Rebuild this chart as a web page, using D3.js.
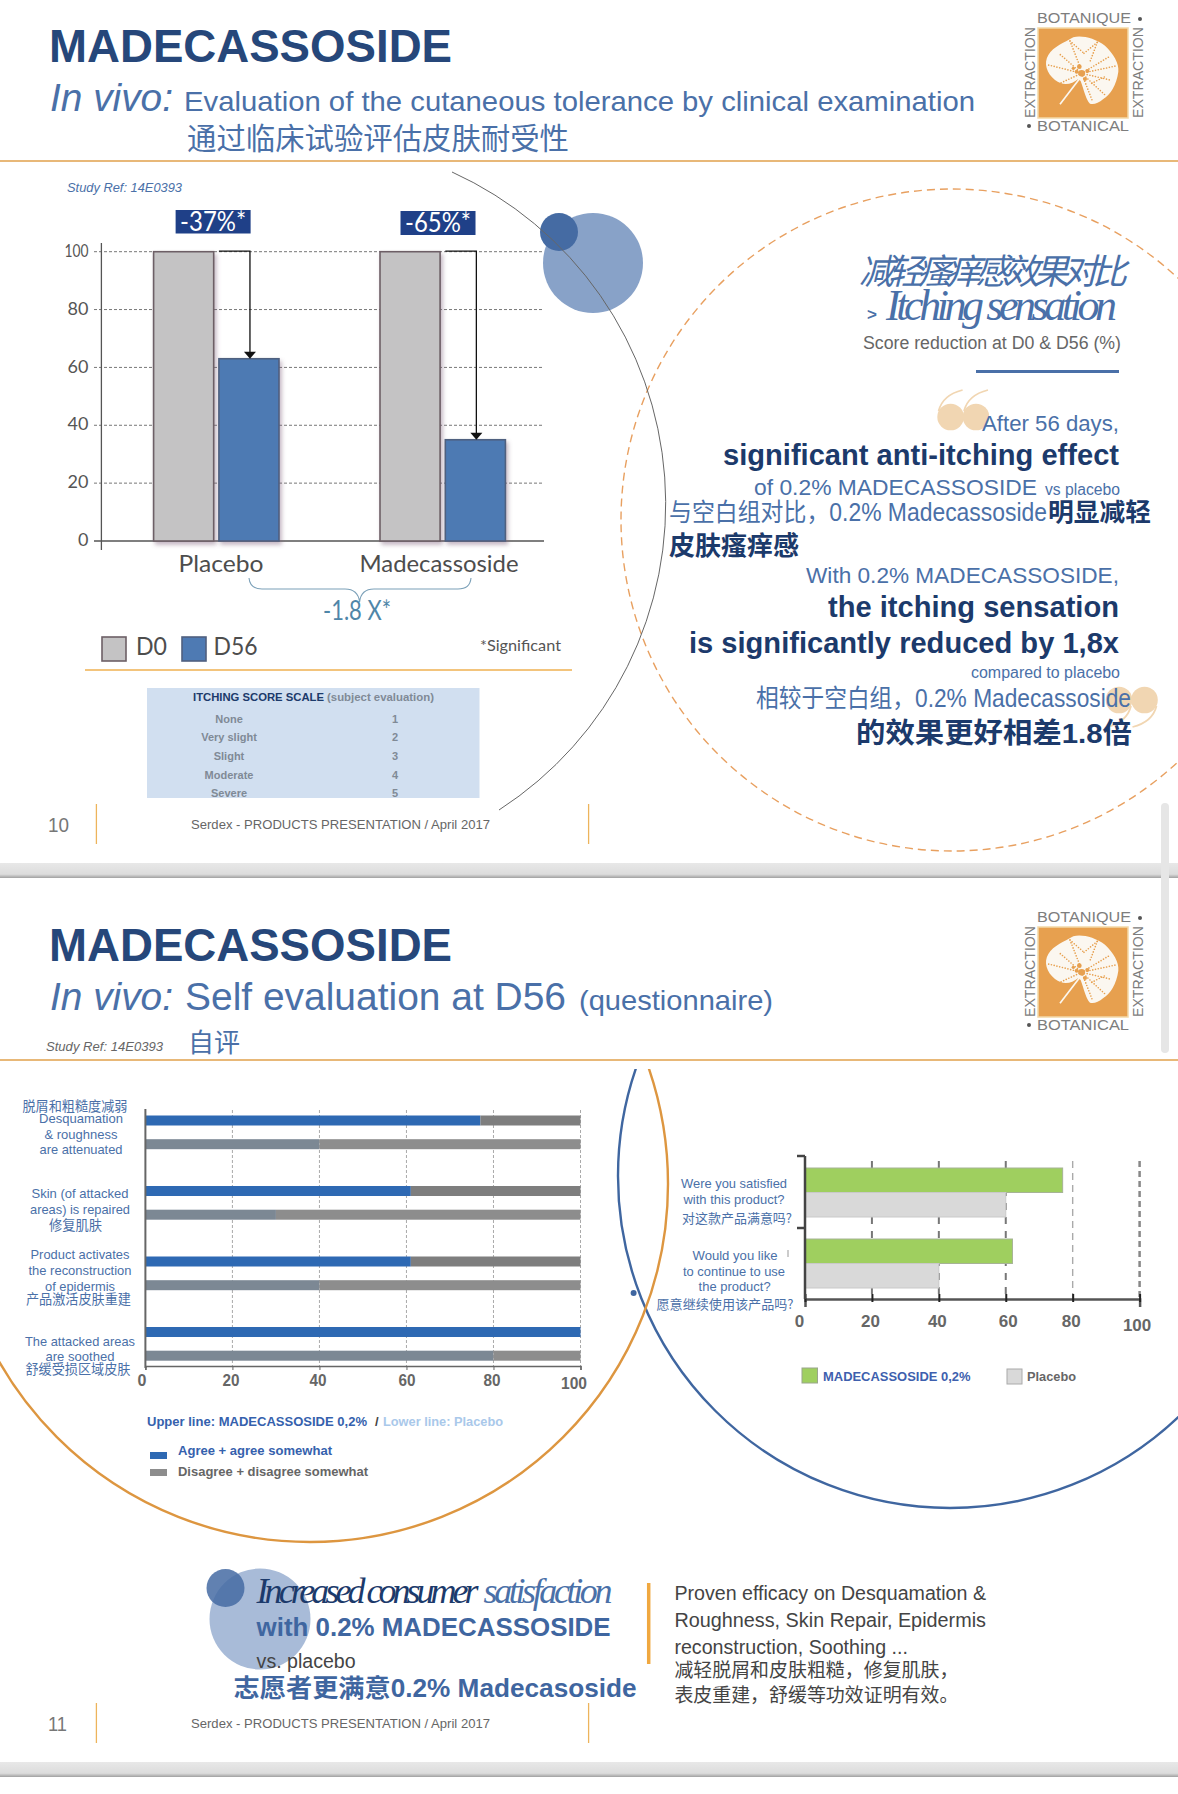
<!DOCTYPE html>
<html><head><meta charset="utf-8">
<script src="https://cdn.jsdelivr.net/npm/d3@7"></script>
<style>html,body{margin:0;padding:0;background:#fff}svg{display:block}</style></head><body>
<svg id="c" width="1178" height="1794" xmlns="http://www.w3.org/2000/svg"></svg>
<script>
// ---------- data ----------
const itchGroups = ["Placebo","Madecassoside"];
const itchDays = ["D0","D56"];
const itchD0 = [100,100];
const itchD56 = [63,35];
const itchReduction = ["-37%*","-65%*"];
const itchTicks = [0,20,40,60,80,100];
const scaleLabels = ["None","Very slight","Slight","Moderate","Severe"];
const scaleValues = [1,2,3,4,5];
const selfCategories = ["Desquamation","Skin repaired","Epidermis reconstruction","Areas soothed"];
const selfMadecassoside = [77,61,61,100];
const selfPlacebo = [40,30,40,80];
const selfTicks = [0,20,40,60,80,100];
const satQuestions = ["Were you satisfied","Would you like to continue"];
const satMadecassoside = [77,62];
const satPlacebo = [60,40];
const satTicks = [0,20,40,60,80,100];

// ---------- helpers ----------
const SANS = '"Liberation Sans","Noto Sans CJK SC",sans-serif';
const CJK = '"Noto Sans CJK SC","Liberation Sans",sans-serif';
const SERIF = '"Liberation Serif",serif';
const LATO = 'Lato,sans-serif';
const BLUE="#4a70a8", DARK="#1c3a6b", TITLE="#26477a", GREY="#666";
const svg = d3.select("#c");
const defs = svg.append("defs");
const sh = defs.append("filter").attr("id","sh").attr("x","-20%").attr("y","-20%").attr("width","150%").attr("height","150%");
sh.append("feDropShadow").attr("dx",2).attr("dy",3).attr("stdDeviation",2).attr("flood-color","#7a5f78").attr("flood-opacity",.45);
const bandGrad = defs.append("linearGradient").attr("id","band").attr("x1",0).attr("x2",0).attr("y1",0).attr("y2",1);
bandGrad.append("stop").attr("offset","0").attr("stop-color","#e8e8e8");
bandGrad.append("stop").attr("offset",".75").attr("stop-color","#dcdcdc");
bandGrad.append("stop").attr("offset","1").attr("stop-color","#a0a0a0");
defs.append("clipPath").attr("id","clip2").append("rect").attr("x",0).attr("y",1069).attr("width",1178).attr("height",700);

function T(g,x,y,s,o={}){
  const t=g.append("text").attr("x",x).attr("y",y).text(s)
    .attr("font-family",o.font||SANS).attr("font-size",o.size||14)
    .attr("fill",o.fill||"#444").attr("text-anchor",o.anchor||"start");
  if(o.weight)t.attr("font-weight",o.weight);
  if(o.style)t.attr("font-style",o.style);
  if(o.width)t.attr("textLength",o.width).attr("lengthAdjust",o.adjust||"spacingAndGlyphs");
  if(o.rotate)t.attr("transform",`rotate(${o.rotate} ${x} ${y})`);
  return t;
}
function rule(g,x1,y1,x2,y2,c,w){return g.append("line").attr("x1",x1).attr("y1",y1).attr("x2",x2).attr("y2",y2).attr("stroke",c).attr("stroke-width",w);}

function logo(g){
  const O="#e7a04f", W="#fbf7f0", G="#7d7d7d";
  T(g,1037,23,"BOTANIQUE",{size:15.5,fill:G,width:94});
  g.append("circle").attr("cx",1140).attr("cy",19).attr("r",2).attr("fill","#555");
  T(g,1037,131,"BOTANICAL",{size:15.5,fill:G,width:92});
  g.append("circle").attr("cx",1029).attr("cy",126).attr("r",2).attr("fill","#555");
  T(g,1035,118,"EXTRACTION",{size:15.5,fill:G,width:91,rotate:-90});
  T(g,1143,118,"EXTRACTION",{size:15.5,fill:G,width:91,rotate:-90});
  g.append("rect").attr("x",1038).attr("y",28).attr("width",90).attr("height",90).attr("fill",O).attr("stroke","#f3d9a8").attr("stroke-width",1.5);
  const L=g.append("g").attr("transform","translate(1010,5) scale(.3333)");
  L.append("path").attr("fill",W).attr("d","M205,222 C185,238 160,245 135,225 C110,205 100,175 115,150 C130,125 165,112 190,97 C215,90 255,100 285,122 C310,145 328,175 325,200 C320,240 300,270 280,282 C265,295 250,300 240,296 C228,285 222,255 212,228 Z");
  L.append("path").attr("fill","none").attr("stroke",W).attr("stroke-width",5).attr("d","M208,222 L150,298");
  const dots=["M215,205 L115,180","M215,205 L150,235","M215,205 L150,148","M180,108 L212,190","M180,108 L222,145","M222,145 L262,112","M262,112 L240,170","M215,205 L298,155","M215,205 L322,182","M215,205 L300,225","M215,205 L285,270","M215,205 L248,290","M245,235 L285,215"];
  L.selectAll("path.d").data(dots).join("path").attr("d",d=>d).attr("fill","none").attr("stroke",O).attr("stroke-width",5).attr("stroke-linecap","round").attr("stroke-dasharray","0 8.5");
  L.selectAll("circle.c").data([[215,205,10],[200,200,6],[232,198,6],[208,185,7],[225,222,6],[190,190,5]]).join("circle").attr("cx",d=>d[0]).attr("cy",d=>d[1]).attr("r",d=>d[2]).attr("fill",O);
}
function header(g,num,baseY){
  T(g,49,baseY+61.5,"MADECASSOSIDE",{size:46,weight:700,fill:TITLE,width:403});
  T(g,50,baseY+111,"In vivo:",{size:38.5,style:"italic",fill:BLUE,width:123});
  rule(g,0,baseY+161,1178,baseY+161,"#e8b878",1.8);
  g.append("g").attr("transform",`translate(0,${baseY})`).call(logo);
  T(g,48,baseY+832,num,{size:20,fill:"#777",width:num==="10"?21:19});
  T(g,191,baseY+829,"Serdex - PRODUCTS PRESENTATION / April 2017",{size:13.5,fill:GREY,width:299});
  rule(g,96.4,baseY+804,96.4,baseY+844,"#edb45c",1.3);
  rule(g,588.6,baseY+804,588.6,baseY+844,"#edb45c",1.3);
  g.append("rect").attr("x",0).attr("y",baseY+863).attr("width",1178).attr("height",15).attr("fill","url(#band)");
}
const root = svg.append("g");
header(root,"10",0);
header(root,"11",899);

// ---------- slide 1 header texts ----------
T(root,184,111,"Evaluation of the cutaneous tolerance by clinical examination",{size:28,fill:BLUE,width:791});
T(root,187,149,"通过临床试验评估皮肤耐受性",{font:CJK,size:29.3,fill:BLUE,width:382});
T(root,67,192,"Study Ref: 14E0393",{size:13,style:"italic",fill:BLUE,width:115});

// ---------- slide 1 decorations ----------
const deco=root.append("g");
deco.append("circle").attr("cx",952).attr("cy",520).attr("r",331).attr("fill","none").attr("stroke","#e8a060").attr("stroke-width",1.4).attr("stroke-dasharray","8 5");
deco.append("circle").attr("cx",593).attr("cy",263).attr("r",50).attr("fill","#88a2c8");
deco.append("circle").attr("cx",559).attr("cy",232).attr("r",19).attr("fill","#456ba3");
deco.append("path").attr("fill","none").attr("stroke","#666").attr("stroke-width",1).attr("d","M452,172 A364.5,364.5 0 0 1 499,810");

// ---------- itching chart ----------
const chart1=root.append("g");
const y1=d3.scaleLinear().domain([0,100]).range([541,251.7]);
const x1g=d3.scaleBand().domain(itchGroups).range([153.6,606.4]);
const x1d=d3.scaleBand().domain(itchDays).range([0,125.4]).paddingInner(.08);
chart1.selectAll("line.g").data(itchTicks.filter(d=>d>0)).join("line")
  .attr("x1",94).attr("x2",544).attr("y1",d=>y1(d)).attr("y2",d=>y1(d))
  .attr("stroke","#777").attr("stroke-width",1).attr("stroke-dasharray","3 2");
const ax1=chart1.append("g").attr("transform","translate(101.4,0)").call(d3.axisLeft(y1).tickValues(itchTicks).tickSize(0).tickPadding(13));
ax1.select(".domain").remove();
ax1.selectAll("text").attr("font-family",LATO).attr("font-size",18).attr("fill","#555").attr("dy",".26em")
  .attr("textLength",d=>d===100?24:null).attr("lengthAdjust","spacingAndGlyphs");
rule(chart1,101.4,243,101.4,550,"#555",1.3);
rule(chart1,94,541,544,541,"#555",1.3);
const barStyle={D0:["#c4c3c4","#6d5f66"],D56:["#4e7ab3","#50607f"]};
itchGroups.forEach((g,i)=>{
  const vals=[itchD0[i],itchD56[i]];
  chart1.selectAll(null).data(itchDays).join("rect")
    .attr("x",d=>x1g(g)+x1d(d)).attr("width",x1d.bandwidth())
    .attr("y",(d,j)=>y1(vals[j])).attr("height",(d,j)=>y1(0)-y1(vals[j]))
    .attr("fill",d=>barStyle[d][0]).attr("stroke",d=>barStyle[d][1]).attr("stroke-width",1.6).attr("filter","url(#sh)");
  const xs=x1g(g)+x1d("D56"), xm=xs+x1d.bandwidth()/2+1;
  chart1.append("path").attr("fill","none").attr("stroke","#111").attr("stroke-width",1.3)
    .attr("d",`M${xs},${y1(100)-.5}H${xm}V${y1(vals[1])-5}`);
  chart1.append("path").attr("fill","#111").attr("d",`M${xm-6},${y1(vals[1])-7}H${xm+6}L${xm},${y1(vals[1])}Z`);
  chart1.append("rect").attr("x",xs-43.3-(i?1.5:0)).attr("y",i?211:210).attr("width",75).attr("height",i?24:23.5).attr("fill","#1f4088");
  T(chart1,xs-5.8-(i?1.5:0),i?232:231,itchReduction[i],{font:LATO,size:26,fill:"#fff",anchor:"middle",width:66});
});
T(chart1,221,572,"Placebo",{font:LATO,size:24,fill:"#4d4d4d",anchor:"middle",width:85});
T(chart1,439,572,"Madecassoside",{font:LATO,size:24,fill:"#4d4d4d",anchor:"middle",width:159});
chart1.append("path").attr("fill","none").attr("stroke","#7ba0b8").attr("stroke-width",1.1)
  .attr("d","M249,578 Q250,589 262,589 H345 Q358,589 359.6,602 Q361,589 374,589 H458 Q470,589 471,578");
T(chart1,357,620,"-1.8 X*",{font:LATO,size:26,fill:"#4f86a8",anchor:"middle",width:68});
itchDays.forEach((d,i)=>{
  const lx=[102,182][i];
  chart1.append("rect").attr("x",lx).attr("y",637).attr("width",24).attr("height",24).attr("fill",barStyle[d][0]).attr("stroke",barStyle[d][1]).attr("stroke-width",1.6);
  T(chart1,[136,213.5][i],655,d,{font:LATO,size:25,fill:"#4d4d4d",width:[31,44][i]});
});
T(chart1,561,651,"*Significant",{font:LATO,size:16,fill:"#555",anchor:"end",width:81});
rule(chart1,85,670,572,670,"#efb050",1.4);
chart1.append("rect").attr("x",147).attr("y",688).attr("width",332.5).attr("height",110).attr("fill","#d1dff0");
T(chart1,193,701,"ITCHING SCORE SCALE",{size:11.5,weight:700,fill:DARK,width:131});
T(chart1,327,701,"(subject evaluation)",{size:11,weight:700,fill:"#808a96",width:107});
const rowY=[722.7,741,759.7,778.7,796.7];
scaleLabels.forEach((l,i)=>{
  T(chart1,229,rowY[i],l,{size:11,weight:700,fill:"#808a96",anchor:"middle"});
  T(chart1,395,rowY[i],scaleValues[i],{size:11,weight:700,fill:"#808a96",anchor:"middle"});
});

// ---------- slide 1 right texts ----------
const R=root.append("g"), RX=1119;
T(R,859,283.5,"减轻瘙痒感效果对比",{font:CJK,size:35,style:"italic",fill:BLUE,width:268,adjust:"spacing"});
T(R,867,320,">",{size:17,weight:700,fill:BLUE});
T(R,886,320,"Itching sensation",{font:SERIF,size:44,style:"italic",fill:BLUE,width:231,adjust:"spacing"});
T(R,863,349,"Score reduction at D0 & D56 (%)",{size:18,fill:GREY,width:258});
rule(R,976,371.5,1119,371.5,BLUE,3);
function quote(cx1,cx2,cy,dir){
  [cx1,cx2].forEach(cx=>{
    R.append("circle").attr("cx",cx).attr("cy",cy).attr("r",13.3).attr("fill","#f1d6b2");
    R.append("path").attr("fill","none").attr("stroke","#f1d6b2").attr("stroke-width",1.8)
      .attr("d",dir<0?`M${cx-12},${cy-6} Q${cx-8},${cy-22} ${cx+12},${cy-27}`:`M${cx+12},${cy+6} Q${cx+8},${cy+22} ${cx-12},${cy+27}`);
  });
}
quote(950.6,976,417,-1);
quote(1119,1144.5,700,1);
T(R,RX,430.8,"After 56 days,",{size:22,fill:BLUE,anchor:"end",width:137});
T(R,RX,465,"significant anti-itching effect",{size:29,weight:700,fill:DARK,anchor:"end",width:396});
T(R,754,494.5,"of 0.2% MADECASSOSIDE",{size:22.5,fill:BLUE,width:283});
T(R,1045,494.5,"vs placebo",{size:16,fill:BLUE,width:75});
T(R,669,521,"与空白组对比，0.2% Madecassoside",{size:25,fill:BLUE,width:378});
T(R,1048,521,"明显减轻",{font:CJK,size:25.5,weight:700,fill:DARK,width:103});
T(R,669,554.7,"皮肤瘙痒感",{font:CJK,size:26,weight:700,fill:DARK,width:130});
T(R,806,583,"With 0.2% MADECASSOSIDE,",{size:21.5,fill:BLUE,width:313});
T(R,RX,617.4,"the itching sensation",{size:29,weight:700,fill:DARK,anchor:"end",width:291});
T(R,RX,652.5,"is significantly reduced by 1,8x",{size:29,weight:700,fill:DARK,anchor:"end",width:430});
T(R,971,677.7,"compared to placebo",{size:16,fill:BLUE,width:149});
T(R,756,707,"相较于空白组，0.2% Madecassoside",{size:25,fill:BLUE,width:375});
T(R,856,743,"的效果更好相差1.8倍",{size:28,weight:700,fill:DARK,width:276});

// ---------- slide 2 header ----------
T(root,185,1010,"Self evaluation at D56",{size:38,fill:BLUE,width:381});
T(root,579,1010,"(questionnaire)",{size:28,fill:BLUE,width:194});
T(root,46,1050.7,"Study Ref: 14E0393",{size:13,style:"italic",fill:GREY,width:117});
T(root,188,1052,"自评",{font:CJK,size:26,fill:BLUE,width:52});

// ---------- slide 2 circles ----------
const c2=root.append("g").attr("clip-path","url(#clip2)");
c2.append("circle").attr("cx",950).attr("cy",1176).attr("r",332).attr("fill","none").attr("stroke","#3f66a0").attr("stroke-width",2.4);
c2.append("circle").attr("cx",310).attr("cy",1184).attr("r",358).attr("fill","none").attr("stroke","#dd9640").attr("stroke-width",2.4);
root.append("circle").attr("cx",633.6).attr("cy",1293).attr("r",3).attr("fill","#3f66a0");

// ---------- self evaluation chart ----------
const chart2=root.append("g");
const x2=d3.scaleLinear().domain([0,100]).range([145.4,580.5]);
const y2g=d3.scaleBand().domain(selfCategories).range([1108.5,1390.5]);
const y2s=d3.scaleBand().domain(["upper","lower"]).range([7,40.7]).paddingInner(.578);
chart2.selectAll("line.g").data(selfTicks.filter(d=>d>0)).join("line")
  .attr("x1",d=>x2(d)).attr("x2",d=>x2(d)).attr("y1",1110).attr("y2",1366)
  .attr("stroke","#aaa").attr("stroke-width",1).attr("stroke-dasharray","3 2");
selfCategories.forEach((c,i)=>{
  const rows=[["upper",selfMadecassoside[i],"#2e69b3","#7e7e7e"],["lower",selfPlacebo[i],"#7c8894","#8d8d8d"]];
  rows.forEach(([k,v,a,b])=>{
    const yy=y2g(c)+y2s(k), h=y2s.bandwidth();
    chart2.append("rect").attr("x",x2(0)).attr("y",yy).attr("width",x2(v)-x2(0)).attr("height",h).attr("fill",a);
    chart2.append("rect").attr("x",x2(v)).attr("y",yy).attr("width",x2(100)-x2(v)).attr("height",h).attr("fill",b);
  });
});
const ax2=chart2.append("g").attr("transform","translate(0,1366)").call(d3.axisBottom(x2).tickValues(selfTicks).tickSize(4).tickPadding(16));
ax2.select(".domain").attr("stroke","#666").attr("stroke-width",1.5);
ax2.selectAll("line").attr("stroke","#666");
ax2.selectAll("text").attr("font-family",SANS).attr("font-size",16).attr("font-weight",700).attr("fill","#666")
  .attr("dx",d=>d===100?-7:d===0?-4:d===60?0:-2).attr("dy",d=>d===100?3:0)
  .attr("textLength",d=>d===100?26:d===0?null:17).attr("lengthAdjust","spacingAndGlyphs");
rule(chart2,145.4,1109,145.4,1368,"#666",2);
const selfLabels=[
 ["脱屑和粗糙度减弱",75,1111,105,1],["Desquamation",81,1123,84,0],["& roughness",81,1139,73,0],["are attenuated",81,1154,83,0],
 ["Skin (of attacked",80,1198,97,0],["areas) is repaired",80,1214,100,0],["修复肌肤",75.5,1230,53,1],
 ["Product activates",80,1259,99,0],["the reconstruction",80,1275,103,0],["of epidermis",80,1291,70,0],["产品激活皮肤重建",78.5,1304,105,1],
 ["The attacked areas",80,1346,110,0],["are soothed",80,1361,69,0],["舒缓受损区域皮肤",78,1374,105,1]];
selfLabels.forEach(([s,x,y,w,cj])=>T(chart2,x,y,s,{font:cj?CJK:SANS,size:13.5,fill:BLUE,anchor:"middle",width:w}));
T(chart2,147,1426,"Upper line: MADECASSOSIDE 0,2%",{size:13,weight:700,fill:"#3561ad",width:220});
T(chart2,375,1426,"/",{size:13,weight:700,fill:"#444"});
T(chart2,383,1426,"Lower line: Placebo",{size:13,weight:700,fill:"#a9c8ea",width:120});
chart2.append("rect").attr("x",150).attr("y",1452).attr("width",17).attr("height",7).attr("fill","#2e69b3");
chart2.append("rect").attr("x",150).attr("y",1469).attr("width",17).attr("height",7).attr("fill","#8d8d8d");
T(chart2,178,1455,"Agree + agree somewhat",{size:13,weight:700,fill:"#3561ad",width:154});
T(chart2,178,1476,"Disagree + disagree somewhat",{size:13,weight:700,fill:GREY,width:190});

// ---------- satisfaction chart ----------
const chart3=root.append("g");
const x3=d3.scaleLinear().domain([0,100]).range([805,1139.6]);
const y3g=d3.scaleBand().domain(satQuestions).range([1157,1299]);
const y3s=d3.scaleBand().domain(["M","P"]).range([11,60]).paddingInner(0);
[[20,"#777",2,"7 7"],[40,"#777",2,"7 7"],[60,"#777",2,"7 7"],[80,"#aaa",1.4,"7 5"],[100,"#888",2.5,"6 4"]].forEach(([v,c,w,dash])=>{
  rule(chart3,x3(v),1161,x3(v),1299,c,w).attr("stroke-dasharray",dash);
});
satQuestions.forEach((q,i)=>{
  chart3.append("rect").attr("x",x3(0)).attr("y",y3g(q)+y3s("M")).attr("width",x3(satMadecassoside[i])-x3(0)).attr("height",y3s.bandwidth()).attr("fill","#9fcf5f").attr("stroke","#a6b396").attr("stroke-width",1);
  chart3.append("rect").attr("x",x3(0)).attr("y",y3g(q)+y3s("P")).attr("width",x3(satPlacebo[i])-x3(0)).attr("height",y3s.bandwidth()).attr("fill","#d9d9d9").attr("stroke","#c9c9c9").attr("stroke-width",1);
});
const ax3=chart3.append("g").attr("transform","translate(0,1299)").call(d3.axisBottom(x3).tickValues(satTicks).tickSize(8).tickPadding(20));
ax3.select(".domain").attr("stroke","#555").attr("stroke-width",2.5);
ax3.selectAll("line").attr("stroke","#222").attr("stroke-width",2).attr("transform","translate(0,-5)");
ax3.selectAll("text").attr("font-family",SANS).attr("font-size",17).attr("font-weight",700).attr("fill","#666").attr("dx",d=>d===0?-6:d===60?2:d===100?-3:-2).attr("dy",d=>d===100?4:0);
rule(chart3,805,1156,805,1299,"#444",2.5);
rule(chart3,797,1156,805,1156,"#444",2.5);
rule(chart3,797,1228,805,1228,"#444",2.5);
rule(chart3,788,1250,788,1257,"#999",1);
const satLabels=[
 ["Were you satisfied",734,1188,106,0],["with this product?",734,1204,101,0],["对这款产品满意吗?",737,1223,110,1],
 ["Would you like",735,1260,85,0],["to continue to use",734,1276,102,0],["the product?",734.6,1291,72,0],["愿意继续使用该产品吗?",725,1309,137,1]];
satLabels.forEach(([s,x,y,w,cj])=>T(chart3,x,y,s,{font:cj?CJK:SANS,size:13,fill:BLUE,anchor:"middle",width:w}));
chart3.append("rect").attr("x",802).attr("y",1368).attr("width",15.5).attr("height",15).attr("fill","#9fcf5f").attr("stroke","#99a68c");
T(chart3,823,1381,"MADECASSOSIDE 0,2%",{size:13,weight:700,fill:"#3e5fae",width:147.5});
chart3.append("rect").attr("x",1007).attr("y",1369).attr("width",15).attr("height",15).attr("fill","#d9d9d9").attr("stroke","#aaa");
T(chart3,1027,1381,"Placebo",{size:13,weight:700,fill:GREY,width:49});

// ---------- slide 2 bottom ----------
const B=root.append("g");
B.append("circle").attr("cx",260).attr("cy",1619).attr("r",50.5).attr("fill","#a8bbd8");
B.append("circle").attr("cx",225.5).attr("cy",1588).attr("r",19).attr("fill","#456ba3").attr("opacity",.85);
T(B,256.6,1603,"Increased consumer",{font:SERIF,size:36,style:"italic",fill:DARK,width:222,adjust:"spacing"});
T(B,483.5,1603,"satisfaction",{font:SERIF,size:36,style:"italic",fill:BLUE,width:129,adjust:"spacing"});
T(B,256.6,1635.7,"with 0.2% MADECASSOSIDE",{size:25,weight:700,fill:"#3f66a0",width:354});
T(B,256.6,1668,"vs. placebo",{size:19.5,fill:"#444",width:99});
T(B,233.6,1696.7,"志愿者更满意0.2% Madecasoside",{size:25,weight:700,fill:"#3f66a0",width:403});
rule(B,648.7,1583,648.7,1664,"#f0a840",3.5);
[["Proven efficacy on Desquamation &",1600,311.6],["Roughness, Skin Repair, Epidermis",1627,311.6],["reconstruction, Soothing ...",1654,233.6],
 ["减轻脱屑和皮肤粗糙，修复肌肤，",1677,284],["表皮重建，舒缓等功效证明有效。",1702,284]].forEach(([s,y,w],i)=>
  T(B,674.4,y,s,{font:i>2?CJK:SANS,size:i>2?19:19.5,fill:"#444",width:w}));

// ---------- page scrollbar ----------
root.append("rect").attr("x",1161).attr("y",803).attr("width",8).attr("height",250).attr("rx",4).attr("fill","#e6e6e6");
</script>
</body></html>
